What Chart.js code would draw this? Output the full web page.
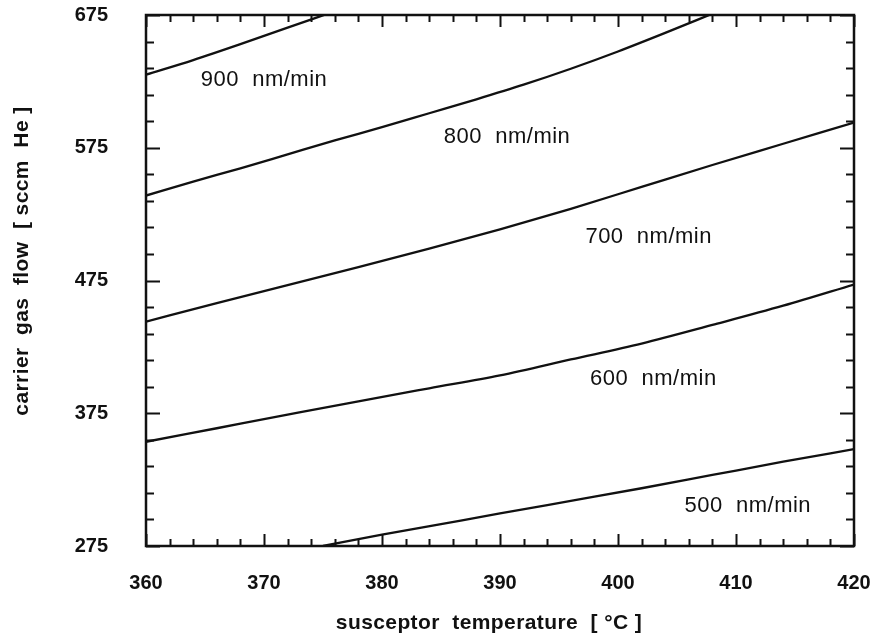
<!DOCTYPE html>
<html>
<head>
<meta charset="utf-8">
<script src="https://cdn.jsdelivr.net/npm/chart.js"></script>
<style>
  html, body { margin: 0; padding: 0; background: #fff; }
</style>
</head>
<body>
<canvas id="rateChart" width="881" height="635"></canvas>
<script>
// Iso growth-rate curves: carrier gas flow vs susceptor temperature

// === DATA ===
const xMin = 360, xMax = 420, xMajor = 10, xMinor = 2;
const yMin = 275, yMax = 675, yMajor = 100, yMinor = 20;

const xTitle = 'susceptor  temperature  [ °C ]';
const yTitle = 'carrier  gas  flow  [ sccm  He ]';

const temp900 = [360, 364, 368, 372, 375.4];
const flow900 = [630, 641, 653, 665.5, 676];

const temp800 = [360, 364, 368, 372, 376, 380, 384, 388, 392, 396, 400, 404, 408];
const flow800 = [539, 549.5, 559.5, 570, 580.5, 590.5, 601, 611.5, 622.5, 634.5, 647.5, 661.5, 676];

const temp700 = [360, 366, 372, 378, 384, 390, 396, 402, 408, 414, 420];
const flow700 = [444, 458, 471.5, 485, 499, 513.5, 529, 545.5, 562, 578, 594];

const temp600 = [360, 366, 372, 378, 384, 390, 396, 402, 408, 414, 420];
const flow600 = [353.5, 363.7, 373.9, 384, 393.8, 403.5, 415.5, 427.5, 441.5, 456, 472];

const temp500 = [375, 380, 385, 390, 396, 402, 408, 414, 420];
const flow500 = [275, 283.5, 291.5, 299.5, 309, 318.5, 328.5, 338.5, 348];

const curveLabels = ['900  nm/min', '800  nm/min', '700  nm/min', '600  nm/min', '500  nm/min'];
const labelTemp = [370, 390.6, 402.6, 403, 411];
const labelFlow = [626, 583, 508, 401, 305];

// === HELPERS ===
function toPoints(xs, ys) {
    return xs.map((v, i) => ({ x: v, y: ys[i] }));
}

function curve(xs, ys) {
    return {
        data: toPoints(xs, ys),
        borderColor: '#111',
        borderWidth: 2.3,
        pointRadius: 0,
        fill: false,
        cubicInterpolationMode: 'monotone'
    };
}

// keep the plot box where the original has it: no label overflow padding
function noOverflow(s) {
    s.paddingTop = 0;
    s.paddingBottom = 0;
    s.paddingLeft = 0;
    s.paddingRight = 0;
}

const ink = '#111';
const family = '"Liberation Sans", Arial, sans-serif';

// frame, inward ticks on all sides, curve labels, axis titles
const framePlugin = {
    id: 'framePlugin',
    afterDatasetsDraw(chart) {
        const { ctx, chartArea: a, scales: { x, y } } = chart;
        ctx.save();
        ctx.strokeStyle = ink;
        ctx.lineCap = 'butt';

        // x ticks (bottom + top)
        ctx.lineWidth = 2;
        for (let v = xMin; v <= xMax + 1e-9; v += xMinor) {
            const px = Math.round(x.getPixelForValue(v)) + 0.5;
            const len = ((v - xMin) % xMajor === 0) ? 12 : 7;
            ctx.beginPath();
            ctx.moveTo(px, a.bottom); ctx.lineTo(px, a.bottom - len);
            ctx.moveTo(px, a.top); ctx.lineTo(px, a.top + len);
            ctx.stroke();
        }
        // y ticks (left + right)
        for (let v = yMin; v <= yMax + 1e-9; v += yMinor) {
            const py = Math.round(y.getPixelForValue(v)) + 0.5;
            const len = ((v - yMin) % yMajor === 0) ? 14 : 8;
            ctx.beginPath();
            ctx.moveTo(a.left, py); ctx.lineTo(a.left + len, py);
            ctx.moveTo(a.right, py); ctx.lineTo(a.right - len, py);
            ctx.stroke();
        }

        // frame
        ctx.lineWidth = 2.5;
        ctx.strokeRect(a.left, a.top, a.right - a.left, a.bottom - a.top);

        // curve labels
        ctx.fillStyle = ink;
        ctx.font = '22px ' + family;
        ctx.letterSpacing = '0.5px';
        ctx.textAlign = 'center';
        ctx.textBaseline = 'middle';
        curveLabels.forEach((t, i) => {
            ctx.fillText(t, x.getPixelForValue(labelTemp[i]), y.getPixelForValue(labelFlow[i]));
        });

        // axis titles
        ctx.font = 'bold 21px ' + family;
        ctx.letterSpacing = '0.4px';
        ctx.fillText(xTitle, (a.left + a.right) / 2 - 11, 623);
        ctx.translate(22, 261);
        ctx.rotate(-Math.PI / 2);
        ctx.fillText(yTitle, 0, 0);
        ctx.restore();
    }
};

// === CHART ===
new Chart(document.getElementById('rateChart'), {
    type: 'line',
    data: {
        datasets: [
            curve(temp900, flow900),
            curve(temp800, flow800),
            curve(temp700, flow700),
            curve(temp600, flow600),
            curve(temp500, flow500)
        ]
    },
    options: {
        responsive: false,
        animation: false,
        devicePixelRatio: 1,
        layout: { autoPadding: false, padding: { top: 15, right: 27, bottom: 0, left: 0 } },
        plugins: {
            legend: { display: false },
            tooltip: { enabled: false }
        },
        scales: {
            x: {
                type: 'linear',
                min: xMin,
                max: xMax,
                grid: { display: false, drawTicks: false },
                border: { display: false },
                ticks: {
                    stepSize: xMajor,
                    padding: 25,
                    color: ink,
                    font: { family: family, size: 20, weight: 'bold' },
                    maxRotation: 0
                },
                afterFit: s => { s.height = 89; noOverflow(s); }
            },
            y: {
                type: 'linear',
                min: yMin,
                max: yMax,
                grid: { display: false, drawTicks: false },
                border: { display: false },
                ticks: {
                    stepSize: yMajor,
                    padding: 38,
                    color: ink,
                    font: { family: family, size: 20, weight: 'bold' }
                },
                afterFit: s => { s.width = 146; noOverflow(s); }
            }
        }
    },
    plugins: [framePlugin]
});
</script>
</body>
</html>
